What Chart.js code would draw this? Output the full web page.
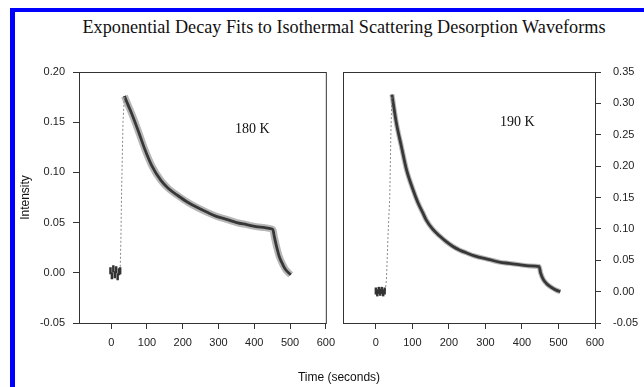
<!DOCTYPE html>
<html>
<head>
<meta charset="utf-8">
<script src="https://cdn.jsdelivr.net/npm/chart.js@4.4.1/dist/chart.umd.min.js"></script>
<style>
  html, body { margin: 0; padding: 0; background: #fff; }
  #wrap { position: relative; width: 644px; height: 387px; overflow: hidden; }
  #frameTop { position: absolute; left: 10px; top: 8px; width: 640px; height: 4px; background: #0000ff; }
  #frameLeft { position: absolute; left: 10px; top: 8px; width: 5px; height: 390px; background: #0000ff; }
  #title { position: absolute; left: 0; width: 688px; top: 17px; text-align: center;
           font-family: "Liberation Serif", "Times New Roman", serif; font-size: 18.2px; color: #111; }
  #xTitle { position: absolute; left: 0; width: 678px; top: 370px; text-align: center;
            font-family: "Liberation Sans", Arial, sans-serif; font-size: 12px; color: #111; }
  .tag { position: absolute; font-family: "Liberation Serif", "Times New Roman", serif; font-size: 14px; color: #111; }
  canvas { position: absolute; top: 0; }
  #c180 { left: 0; }
  #c190 { left: 331px; }
</style>
</head>
<body>
<div id="wrap">
  <div id="frameTop"></div>
  <div id="frameLeft"></div>
  <div id="title">Exponential Decay Fits to Isothermal Scattering Desorption Waveforms</div>
  <canvas id="c180" width="342" height="387"></canvas>
  <canvas id="c190" width="313" height="387"></canvas>
  <div class="tag" style="left:235px; top:121px;">180 K</div>
  <div class="tag" style="left:500px; top:114px;">190 K</div>
  <div id="xTitle">Time (seconds)</div>
</div>
<script>
// x ticks shared by both panels
const xTicks = [0, 100, 200, 300, 400, 500, 600];
const yTicks180 = [-0.05, 0.00, 0.05, 0.10, 0.15, 0.20];
const yTicks190 = [-0.05, 0.00, 0.05, 0.10, 0.15, 0.20, 0.25, 0.30, 0.35];

// 180 K waveform
const base180T = [-2, 2, 6, 10, 14, 18, 22, 25];
const base180V = [0.002, -0.003, 0.004, -0.002, 0.003, -0.004, 0.001, 0.002];
const rise180T = [25, 27, 29, 33, 37];
const rise180V = [0.002, 0.03, 0.08, 0.15, 0.176];
const decay180T = [37, 45, 58, 76, 94, 113, 139, 160, 186, 215, 241, 270, 296, 325, 351, 378, 405, 430, 445, 452, 456, 463, 470, 480, 488, 502];
const decay180V = [0.176, 0.169, 0.158, 0.141, 0.123, 0.107, 0.092, 0.084, 0.077, 0.070, 0.065, 0.060, 0.056, 0.053, 0.050, 0.048, 0.046, 0.045, 0.044, 0.043, 0.036, 0.025, 0.016, 0.008, 0.003, -0.002];

// 190 K waveform
const base190T = [0, 4, 8, 12, 16, 20, 24];
const base190V = [0.001, -0.002, 0.002, -0.001, 0.002, -0.002, 0.001];
const rise190T = [26, 29, 34, 38, 41, 44];
const rise190V = [0.001, 0.02, 0.10, 0.15, 0.25, 0.314];
const decay190T = [44, 56, 70, 84, 102, 115, 129, 138, 155, 174, 192, 211, 230, 247, 270, 311, 338, 365, 392, 420, 447, 451, 458, 467, 480, 495, 505];
const decay190V = [0.314, 0.269, 0.231, 0.194, 0.162, 0.142, 0.125, 0.114, 0.100, 0.089, 0.080, 0.072, 0.066, 0.062, 0.057, 0.051, 0.047, 0.045, 0.043, 0.041, 0.040, 0.030, 0.020, 0.013, 0.007, 0.002, 0.000];

function pts(ts, vs) {
    return ts.map((t, i) => ({ x: t, y: vs[i] }));
}

// box around the plot area
const boxPlugin = {
    id: 'box',
    afterDraw(chart) {
        const a = chart.chartArea;
        const ctx = chart.ctx;
        ctx.save();
        ctx.strokeStyle = '#333';
        ctx.lineWidth = 1;
        ctx.strokeRect(a.left + 0.5, a.top + 0.5, a.right - a.left, a.bottom - a.top);
        ctx.restore();
    }
};

const tickFont = { family: '"Liberation Sans", Arial, sans-serif', size: 11 };

function makePanel(id, base, rise, decay, yTicks, yMax, side, bandWidth, padding, yWidth) {
    const ctx = document.getElementById(id).getContext('2d');
    const yAxis = {
        type: 'linear',
        position: side,
        min: -0.05,
        max: yMax,
        afterBuildTicks: (s) => { s.ticks = yTicks.map(v => ({ value: v })); },
        afterFit: (s) => { s.width = yWidth; },
        ticks: {
            font: tickFont,
            color: '#222',
            padding: side === 'left' ? 8 : 12,
            callback: (v) => v.toFixed(2)
        },
        grid: { drawOnChartArea: false, tickLength: 6, color: '#333' },
        border: { display: true, color: '#333' }
    };
    if (side === 'left') {
        yAxis.title = {
            display: true,
            text: 'Intensity',
            font: { family: '"Liberation Sans", Arial, sans-serif', size: 12 },
            color: '#111',
            padding: { top: 18, bottom: 0 }
        };
    }
    return new Chart(ctx, {
        type: 'scatter',
        data: {
            datasets: [
                {
                    data: pts(base[0], base[1]),
                    showLine: false,
                    pointStyle: 'line',
                    rotation: 90,
                    radius: 3.5,
                    borderWidth: 2.5,
                    borderColor: '#333'
                },
                {
                    data: pts(rise[0], rise[1]),
                    showLine: true,
                    borderColor: '#888',
                    borderWidth: 1,
                    borderDash: [2, 2],
                    pointRadius: 0
                },
                {
                    data: pts(decay[0], decay[1]),
                    showLine: true,
                    borderColor: 'rgba(110,110,110,0.5)',
                    borderWidth: bandWidth,
                    pointRadius: 0,
                    cubicInterpolationMode: 'monotone'
                },
                {
                    data: pts(decay[0], decay[1]),
                    showLine: true,
                    borderColor: '#000',
                    borderWidth: 2.8,
                    pointRadius: 0,
                    cubicInterpolationMode: 'monotone'
                }
            ]
        },
        options: {
            responsive: false,
            animation: false,
            layout: { padding: padding },
            plugins: {
                legend: { display: false },
                tooltip: { enabled: false }
            },
            scales: {
                x: {
                    type: 'linear',
                    min: -90,
                    max: 600,
                    afterBuildTicks: (s) => { s.ticks = xTicks.map(v => ({ value: v })); },
                    afterFit: (s) => { s.height = 30; },
                    ticks: { font: tickFont, color: '#222', padding: 7 },
                    grid: { drawOnChartArea: false, tickLength: 6, color: '#333' },
                    border: { display: true, color: '#333' }
                },
                y: yAxis
            }
        },
        plugins: [boxPlugin]
    });
}

makePanel('c180', [base180T, base180V], [rise180T, rise180V], [decay180T, decay180V],
    yTicks180, 0.20, 'left', 7, { left: 0, top: 72, right: 12, bottom: 34 }, 79);
makePanel('c190', [base190T, base190V], [rise190T, rise190V], [decay190T, decay190V],
    yTicks190, 0.35, 'right', 5, { left: 12, top: 72, right: 0, bottom: 34 }, 49);
</script>
</body>
</html>
